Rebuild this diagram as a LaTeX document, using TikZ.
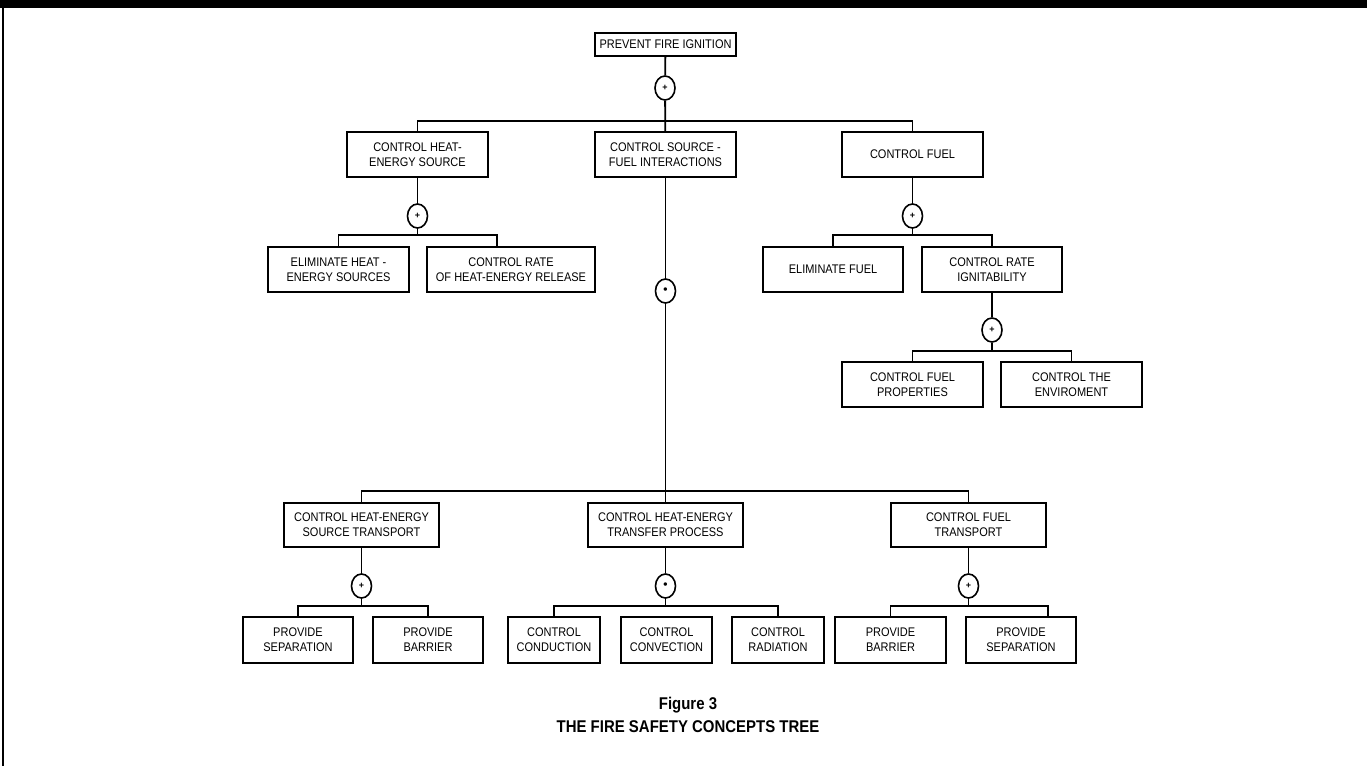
\documentclass[tikz,border=0pt]{standalone}
\usepackage{fontspec}
\setmainfont{Liberation Sans}
\newfontfamily\narrowfont{Liberation Sans}[FakeStretch=0.88]
\usetikzlibrary{shapes.geometric}
\begin{document}
\begin{tikzpicture}[x=1pt,y=-1pt,
  box/.style={draw,line width=1.8pt,align=center,inner sep=0pt,minimum height=45pt,font=\narrowfont\fontsize{12.5}{15}\selectfont},
  gate/.style={draw,ellipse,line width=1.6pt,fill=white,inner sep=0pt,minimum width=20pt,minimum height=24pt,font=\bfseries\fontsize{9}{9}\selectfont},
  link/.style={line width=1.8pt}]
\useasboundingbox (0,0) rectangle (1367,766);
\fill (0,0) rectangle (1367,8);
\draw[line width=2pt] (3,0) -- (3,766);
% top of the tree
\node [box,minimum width=141pt,minimum height=23pt] (pfi) at (665.5,44.5) {PREVENT FIRE IGNITION};
\node [gate] (g0) at (665,88) {+};
\node [box,minimum width=141pt] (hs) at (417.5,154.5) {CONTROL HEAT-\\ENERGY SOURCE};
\node [box,minimum width=141pt] (sfi) at (665.5,154.5) {CONTROL SOURCE -\\FUEL INTERACTIONS};
\node [box,minimum width=141pt] (cf) at (912.5,154.5) {CONTROL FUEL};
\draw[link] (pfi) -- (g0) -- (sfi);
\draw[link] (hs.north) -- ++(0,-10) -| (cf.north);
% heat-energy source
\node [gate] (g1) at (417.5,216) {+};
\node [box,minimum width=141pt] (ehs) at (338.5,269.5) {ELIMINATE HEAT -\\ENERGY SOURCES};
\node [box,minimum width=168pt] (crr) at (511,269.5) {CONTROL RATE\\OF HEAT-ENERGY RELEASE};
\draw[link] (hs) -- (g1) -- ++(0,20);
\draw[link] (ehs.north) -- ++(0,-11) -| ([xshift=-14pt]crr.north);
% fuel
\node [gate] (g3) at (912.5,216) {+};
\node [box,minimum width=140pt] (ef) at (833,269.5) {ELIMINATE FUEL};
\node [box,minimum width=140pt] (cri) at (992,269.5) {CONTROL RATE\\IGNITABILITY};
\draw[link] (cf) -- (g3) -- ++(0,20);
\draw[link] (ef.north) -- ++(0,-11) -| (cri.north);
\node [gate] (g4) at (992,330) {+};
\node [box,minimum width=141pt] (cfp) at (912.5,384.5) {CONTROL FUEL\\PROPERTIES};
\node [box,minimum width=141pt] (cte) at (1071.5,384.5) {CONTROL THE\\ENVIROMENT};
\draw[link] (cri) -- (g4) -- ++(0,22);
\draw[link] (cfp.north) -- ++(0,-10) -| (cte.north);
% source - fuel interactions
\node [gate] (g2) at (665.5,291) {\fontsize{12}{12}\selectfont\textbullet};
\node [box,minimum width=155pt,minimum height=44pt] (hst) at (361.5,525) {CONTROL HEAT-ENERGY\\SOURCE TRANSPORT};
\node [box,minimum width=155pt,minimum height=44pt] (htp) at (665.5,525) {CONTROL HEAT-ENERGY\\TRANSFER PROCESS};
\node [box,minimum width=155pt,minimum height=44pt] (cft) at (968.5,525) {CONTROL FUEL\\TRANSPORT};
\draw[link] (sfi) -- (g2) -- (htp);
\draw[link] (hst.north) -- ++(0,-11) -| (cft.north);
% bottom row
\node [gate] (g5) at (361.5,586) {+};
\node [gate] (g6) at (665.5,586) {\fontsize{12}{12}\selectfont\textbullet};
\node [gate] (g7) at (968.5,586) {+};
\node [box,minimum width=110pt,minimum height=46pt] (ps1) at (298,640) {PROVIDE\\SEPARATION};
\node [box,minimum width=110pt,minimum height=46pt] (pb1) at (428,640) {PROVIDE\\BARRIER};
\node [box,minimum width=92pt,minimum height=46pt] (ccd) at (554,640) {CONTROL\\CONDUCTION};
\node [box,minimum width=91pt,minimum height=46pt] (ccv) at (666.5,640) {CONTROL\\CONVECTION};
\node [box,minimum width=92pt,minimum height=46pt] (crd) at (778,640) {CONTROL\\RADIATION};
\node [box,minimum width=111pt,minimum height=46pt] (pb2) at (890.5,640) {PROVIDE\\BARRIER};
\node [box,minimum width=110pt,minimum height=46pt] (ps2) at (1021,640) {PROVIDE\\SEPARATION};
\draw[link] (hst) -- (g5) -- ++(0,21);
\draw[link] (htp) -- (g6) -- ++(0,21);
\draw[link] (cft) -- (g7) -- ++(0,21);
\draw[link] (ps1.north) -- ++(0,-10) -| (pb1.north);
\draw[link] (ccd.north) -- ++(0,-10) -| (crd.north);
\draw[link] (pb2.north) -- ++(0,-10) -| ([xshift=27pt]ps2.north);
% caption
\node [font=\narrowfont\bfseries\fontsize{17}{17}\selectfont] (fig) at (688,705) {Figure 3};
\node [font=\narrowfont\bfseries\fontsize{17}{17}\selectfont] (ttl) at (688,727) {THE FIRE SAFETY CONCEPTS TREE};
\end{tikzpicture}
\end{document}
